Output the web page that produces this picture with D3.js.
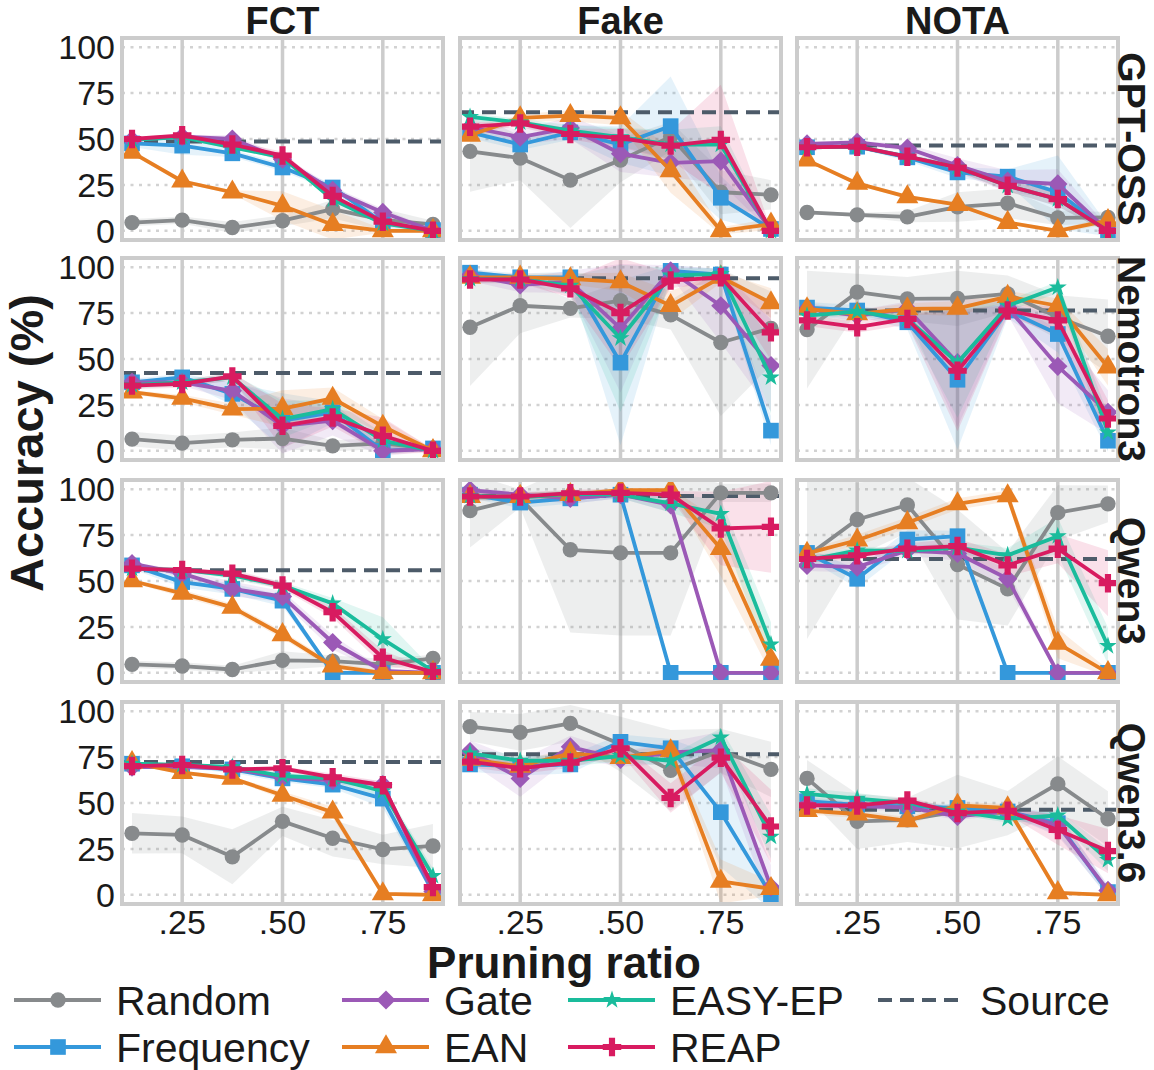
<!DOCTYPE html>
<html>
<head>
<meta charset="utf-8">
<script src="https://cdn.jsdelivr.net/npm/d3@7"></script>
<style>
  body { margin: 0; background: #fff; }
  text { font-family: "Liberation Sans", Arial, Helvetica, sans-serif; fill: #1a1a1a; }
</style>
</head>
<body>
<svg id="chart" width="1154" height="1070"></svg>
<script>
// ---- data ----
const ratios = [0.125, 0.25, 0.375, 0.5, 0.625, 0.75, 0.875];
const xTicks = [0.25, 0.5, 0.75];
const xTickLabels = [".25", ".50", ".75"];
const yTicks = [0, 25, 50, 75, 100];
const tasks = ["FCT", "Fake", "NOTA"];
const models = ["GPT-OSS", "Nemotron3", "Qwen3", "Qwen3.6"];
const methods = ["Random", "Frequency", "Gate", "EAN", "EASY-EP", "REAP"];
const colors = ["#878a8c", "#3498db", "#9b59b6", "#e67e22", "#1abc9c", "#d81b60"];

// source model accuracy per model (rows) and task (columns)
const source = [
  [48.7, 64.5, 46.4],
  [42.4, 94.0, 76.4],
  [55.8, 96.3, 62.0],
  [72.3, 76.6, 46.3]
];

// mean accuracy, one row per method (Random, Frequency, Gate, EAN, EASY-EP, REAP)
const gptFct = [
  [4.5, 5.8, 1.8, 5.5, 11.8, 6.0, 3.5],
  [47.6, 46.4, 42.2, 34.5, 23.6, 4.5, 0.4],
  [49.5, 51.3, 50.0, 39.0, 22.0, 10.0, 0.0],
  [42.7, 27.0, 21.0, 13.6, 3.3, 0.0, 0.0],
  [49.5, 51.0, 45.5, 40.0, 17.0, 4.0, 0.0],
  [50.0, 52.0, 47.0, 41.0, 19.0, 5.0, 0.0]
];
const gptFake = [
  [43.3, 39.6, 27.6, 38.5, 51.3, 21.0, 19.6],
  [53.6, 47.0, 53.6, 47.0, 57.0, 18.0, 1.0],
  [56.4, 51.0, 56.0, 42.0, 37.0, 38.0, 0.4],
  [52.0, 61.5, 62.7, 61.5, 32.7, 0.0, 3.6],
  [62.0, 59.0, 54.5, 51.0, 47.0, 47.0, 0.0],
  [56.7, 58.5, 52.7, 50.5, 46.4, 49.5, 0.0]
];
const gptNota = [
  [10.0, 8.7, 7.6, 13.0, 15.0, 7.0, 7.3],
  [45.5, 45.8, 40.0, 31.8, 29.5, 21.0, 0.0],
  [47.3, 48.2, 45.0, 35.5, 27.0, 25.5, 0.0],
  [38.5, 25.8, 18.5, 14.2, 4.5, 0.0, 5.5],
  [45.5, 45.8, 40.4, 34.5, 24.5, 17.3, 0.0],
  [45.5, 45.8, 40.4, 34.5, 24.5, 17.3, 0.0]
];
const nemFct = [
  [6.4, 4.2, 6.0, 6.7, 2.7, 4.0, 1.0],
  [37.3, 40.0, 31.0, 16.4, 21.0, 0.0, 1.3],
  [37.3, 37.3, 32.7, 13.6, 16.4, 0.0, 1.0],
  [32.0, 28.5, 22.7, 23.0, 28.5, 13.3, 0.0],
  [35.8, 37.3, 40.0, 17.3, 22.7, 5.5, 0.0],
  [35.5, 36.4, 40.5, 13.6, 18.2, 8.2, 0.0]
];
const nemFake = [
  [67.3, 79.0, 77.6, 81.8, 74.0, 59.0, 66.7],
  [97.0, 94.5, 94.5, 48.0, 98.0, 96.0, 11.0],
  [95.5, 90.4, 92.0, 66.7, 98.0, 79.0, 46.4],
  [94.5, 94.5, 93.6, 92.0, 79.0, 94.5, 80.5],
  [93.6, 93.3, 90.0, 61.3, 95.5, 96.4, 40.0],
  [93.3, 93.3, 88.5, 75.0, 92.7, 94.5, 64.5]
];
const nemNota = [
  [66.0, 86.4, 82.7, 83.0, 85.5, 72.7, 62.4],
  [78.0, 76.4, 70.0, 38.7, 76.4, 63.6, 5.5],
  [77.3, 73.6, 77.3, 48.0, 78.0, 46.0, 21.0],
  [77.3, 74.5, 77.3, 77.6, 84.0, 79.0, 45.5],
  [73.6, 75.8, 71.8, 48.0, 79.0, 89.0, 10.0],
  [71.0, 67.3, 71.8, 43.6, 76.4, 71.0, 17.6]
];
const qwenFct = [
  [4.6, 3.7, 1.8, 6.8, 6.4, 4.6, 7.9],
  [58.5, 49.4, 45.7, 39.3, 0.0, 0.0, 0.0],
  [59.4, 54.0, 45.7, 41.5, 16.5, 1.0, 0.0],
  [50.0, 43.3, 35.6, 20.7, 3.7, 0.0, 0.0],
  [56.7, 56.0, 53.0, 47.5, 37.8, 18.3, 1.0],
  [56.7, 56.0, 54.0, 47.5, 33.0, 8.2, 0.4]
];
const qwenFake = [
  [88.3, 95.0, 67.0, 65.3, 65.3, 98.0, 98.0],
  [97.0, 92.7, 95.0, 97.0, 0.0, 0.0, 0.0],
  [99.5, 97.0, 95.0, 97.0, 91.4, 0.0, 0.0],
  [96.0, 96.0, 97.0, 99.5, 99.5, 67.6, 7.3],
  [96.3, 95.6, 97.4, 97.0, 92.3, 86.5, 15.5],
  [96.0, 96.0, 97.8, 98.0, 97.0, 78.6, 79.5]
];
const qwenNota = [
  [63.4, 83.5, 91.4, 59.0, 45.7, 87.2, 92.0],
  [65.3, 51.2, 72.6, 74.4, 0.0, 0.0, 0.0],
  [58.5, 57.6, 66.7, 65.0, 51.2, 0.0, 0.0],
  [65.0, 72.2, 81.7, 92.0, 96.3, 16.0, 0.0],
  [61.2, 66.7, 66.4, 68.2, 64.0, 74.4, 14.6],
  [62.0, 64.0, 67.6, 69.0, 58.5, 67.6, 48.8]
];
const q36Fct = [
  [33.5, 32.6, 20.7, 40.0, 30.8, 24.7, 26.6],
  [71.4, 70.0, 68.3, 63.4, 60.0, 52.4, 1.5],
  [69.6, 69.6, 68.9, 64.0, 62.3, 60.0, 1.8],
  [72.0, 66.5, 63.4, 54.2, 45.0, 0.5, 0.0],
  [71.4, 70.7, 69.6, 64.7, 63.4, 56.4, 10.3],
  [70.1, 70.7, 68.3, 68.9, 64.0, 59.7, 4.2]
];
const q36Fake = [
  [91.6, 88.5, 93.4, 82.0, 67.8, 78.4, 68.3],
  [71.0, 70.0, 71.0, 83.3, 79.8, 45.0, 0.0],
  [78.0, 63.4, 80.6, 73.8, 77.5, 78.8, 4.2],
  [73.8, 70.0, 77.0, 74.7, 78.4, 7.3, 3.3],
  [77.0, 73.0, 73.0, 75.6, 73.0, 85.7, 31.7],
  [72.5, 68.9, 72.0, 79.8, 52.7, 74.7, 37.2]
];
const q36Nota = [
  [63.4, 40.0, 40.8, 45.4, 44.5, 60.4, 41.4],
  [51.0, 49.0, 48.2, 47.3, 45.4, 39.0, 1.5],
  [49.0, 48.2, 47.6, 42.7, 45.4, 38.0, 2.4],
  [45.8, 44.0, 40.3, 48.7, 47.3, 1.1, 0.0],
  [55.0, 52.4, 50.0, 45.4, 41.4, 43.2, 19.0],
  [48.7, 48.7, 51.3, 44.5, 45.8, 35.3, 23.8]
];

// spread (std) for the shaded bands, same layout as above
const gptFctSd = [
  [2, 2, 3, 3, 5, 6, 2], [2, 5, 2, 2, 2, 2, 1], [1, 1, 2, 2, 2, 2, 1],
  [1, 1, 1, 8, 8, 1, 1], [1, 1, 1, 1, 1, 1, 1], [1, 1, 2, 2, 1, 1, 1]
];
const gptFakeSd = [
  [22, 12, 26, 12, 8, 12, 8], [3, 3, 4, 10, 27, 12, 2], [4, 4, 6, 10, 8, 12, 1],
  [2, 2, 3, 4, 12, 2, 3], [2, 2, 3, 5, 8, 10, 1], [2, 2, 3, 5, 8, 30, 1]
];
const gptNotaSd = [
  [1, 1, 3, 8, 8, 4, 3], [1, 1, 2, 3, 4, 20, 3], [1, 1, 2, 4, 6, 8, 2],
  [1, 1, 1, 1, 1, 1, 2], [1, 1, 1, 2, 3, 4, 1], [1, 1, 1, 2, 3, 4, 1]
];
const nemFctSd = [
  [4, 4, 4, 6, 3, 3, 1], [2, 2, 6, 15, 6, 2, 1], [2, 2, 5, 15, 8, 3, 1],
  [1, 2, 3, 10, 6, 4, 1], [2, 2, 2, 10, 5, 4, 1], [2, 2, 2, 12, 5, 10, 1]
];
const nemFakeSd = [
  [32, 15, 5, 10, 8, 40, 20], [2, 2, 3, 45, 3, 3, 8], [3, 4, 6, 35, 3, 20, 25],
  [2, 2, 3, 5, 8, 3, 8], [2, 2, 5, 40, 4, 3, 20], [2, 2, 5, 30, 4, 3, 15]
];
const nemNotaSd = [
  [32, 10, 12, 15, 10, 12, 20], [3, 3, 4, 38, 4, 10, 6], [3, 3, 4, 35, 4, 20, 12],
  [2, 2, 3, 4, 3, 4, 10], [2, 2, 3, 30, 3, 3, 10], [3, 3, 3, 33, 3, 8, 10]
];
const qwenFctSd = [
  [2, 2, 2, 5, 3, 3, 2], [2, 3, 3, 3, 1, 1, 1], [1, 2, 4, 3, 4, 1, 1],
  [1, 2, 2, 2, 2, 1, 1], [1, 1, 2, 2, 3, 12, 1], [1, 1, 2, 2, 3, 4, 1]
];
const qwenFakeSd = [
  [20, 5, 45, 45, 45, 5, 5], [2, 3, 3, 2, 1, 1, 1], [1, 2, 3, 2, 4, 1, 1],
  [2, 2, 2, 1, 1, 15, 8], [2, 2, 2, 2, 5, 8, 12], [2, 2, 2, 2, 2, 20, 25]
];
const qwenNotaSd = [
  [45, 20, 15, 30, 20, 15, 10], [3, 5, 5, 3, 1, 1, 1], [3, 3, 3, 4, 5, 1, 1],
  [2, 3, 3, 3, 3, 8, 2], [2, 2, 2, 3, 4, 10, 10], [2, 2, 3, 4, 6, 8, 18]
];
const q36FctSd = [
  [11, 10, 15, 8, 10, 8, 12], [1, 1, 2, 2, 2, 5, 2], [1, 1, 1, 2, 2, 2, 2],
  [1, 1, 1, 2, 3, 1, 1], [1, 1, 1, 2, 2, 3, 4], [1, 1, 1, 1, 2, 2, 2]
];
const q36FakeSd = [
  [8, 10, 10, 15, 22, 12, 15], [4, 5, 5, 4, 5, 30, 8], [6, 10, 6, 4, 6, 10, 12],
  [3, 3, 3, 3, 3, 12, 4], [3, 3, 3, 3, 3, 5, 12], [3, 3, 3, 3, 8, 8, 20]
];
const q36NotaSd = [
  [10, 15, 12, 20, 12, 15, 15], [2, 2, 2, 2, 2, 6, 3], [2, 2, 2, 2, 2, 6, 3],
  [2, 2, 2, 2, 2, 1, 1], [3, 3, 2, 2, 2, 3, 6], [2, 2, 2, 2, 2, 8, 12]
];

const means = [
  [gptFct, gptFake, gptNota],
  [nemFct, nemFake, nemNota],
  [qwenFct, qwenFake, qwenNota],
  [q36Fct, q36Fake, q36Nota]
];
const spreads = [
  [gptFctSd, gptFakeSd, gptNotaSd],
  [nemFctSd, nemFakeSd, nemNotaSd],
  [qwenFctSd, qwenFakeSd, qwenNotaSd],
  [q36FctSd, q36FakeSd, q36NotaSd]
];

// ---- layout ----
const colX = [122, 460, 797];
const rowY = [38, 258, 480, 702];
const panelW = 321, panelH = 202;
const gridCol = "#cccccc";
const srcCol = "#4d5b69";

const svg = d3.select("#chart");

const x = d3.scaleLinear().domain([0.1, 0.9]).range([0, panelW]);
const y = d3.scaleLinear().domain([-5, 105]).range([panelH, 0]);

// matplotlib-style diamond (square turned 45 degrees)
const symbolRhomb = {
  draw(ctx, size) {
    const r = Math.sqrt(size / 2);
    ctx.moveTo(0, -r); ctx.lineTo(r, 0); ctx.lineTo(0, r); ctx.lineTo(-r, 0); ctx.closePath();
  }
};

const shapes = [
  d3.symbol(d3.symbolCircle, 185),
  d3.symbol(d3.symbolSquare, 245),
  d3.symbol(symbolRhomb, 185),
  d3.symbol(d3.symbolTriangle, 210),
  d3.symbol(d3.symbolStar, 100),
  d3.symbol(d3.symbolCross, 190)
];

models.forEach((model, r) => {
  tasks.forEach((task, c) => {
    const g = svg.append("g").attr("transform", `translate(${colX[c]},${rowY[r]})`);
    const clipId = `clip-${r}-${c}`;
    g.append("clipPath").attr("id", clipId)
      .append("rect").attr("width", panelW).attr("height", panelH);

    // horizontal dotted grid
    g.selectAll(".hgrid").data(yTicks).enter().append("line")
      .attr("x1", 0).attr("x2", panelW)
      .attr("y1", d => y(d)).attr("y2", d => y(d))
      .attr("stroke", "#d2d2d2").attr("stroke-width", 2.5)
      .attr("stroke-dasharray", "3,5.5");

    // vertical grid
    g.selectAll(".vgrid").data(xTicks).enter().append("line")
      .attr("x1", d => x(d)).attr("x2", d => x(d))
      .attr("y1", 0).attr("y2", panelH)
      .attr("stroke", gridCol).attr("stroke-width", 3.5);

    const plot = g.append("g").attr("clip-path", `url(#${clipId})`);
    const m = means[r][c], s = spreads[r][c];

    // bands
    methods.forEach((name, k) => {
      const pts = ratios.map((rt, i) => ({ x: rt, lo: m[k][i] - s[k][i], hi: m[k][i] + s[k][i] }));
      plot.append("path")
        .datum(pts)
        .attr("d", d3.area().x(d => x(d.x)).y0(d => y(d.lo)).y1(d => y(d.hi)))
        .attr("fill", colors[k])
        .attr("fill-opacity", k === 0 ? 0.15 : 0.13);
    });

    // source reference
    plot.append("line")
      .attr("x1", 0).attr("x2", panelW)
      .attr("y1", y(source[r][c])).attr("y2", y(source[r][c]))
      .attr("stroke", srcCol).attr("stroke-width", 4)
      .attr("stroke-dasharray", "14,8");

    // lines + markers
    methods.forEach((name, k) => {
      const pts = ratios.map((rt, i) => ({ x: rt, v: m[k][i] }));
      plot.append("path")
        .datum(pts)
        .attr("d", d3.line().x(d => x(d.x)).y(d => y(d.v)))
        .attr("fill", "none")
        .attr("stroke", colors[k])
        .attr("stroke-width", 3.8)
        .attr("stroke-linejoin", "round");
      plot.selectAll(null).data(pts).enter().append("path")
        .attr("d", shapes[k])
        .attr("transform", d => `translate(${x(d.x)},${y(d.v)})`)
        .attr("fill", colors[k]);
    });

    // frame
    g.append("rect")
      .attr("width", panelW).attr("height", panelH)
      .attr("fill", "none").attr("stroke", gridCol).attr("stroke-width", 4);

    // y tick labels on the first column
    if (c === 0) {
      g.selectAll(".ytl").data(yTicks).enter().append("text")
        .attr("x", -7).attr("y", d => y(d)).attr("dy", "0.35em")
        .attr("text-anchor", "end")
        .attr("font-size", 34)
        .text(d => d);
    }
    // x tick labels on the last row
    if (r === models.length - 1) {
      g.selectAll(".xtl").data(xTicks).enter().append("text")
        .attr("x", d => x(d)).attr("y", panelH + 30)
        .attr("text-anchor", "middle")
        .attr("font-size", 34)
        .text((d, i) => xTickLabels[i]);
    }
    // column titles
    if (r === 0) {
      g.append("text")
        .attr("x", panelW / 2).attr("y", -4)
        .attr("text-anchor", "middle")
        .attr("font-size", 38).attr("font-weight", "bold")
        .text(task);
    }
    // row labels on the right, rotated
    if (c === tasks.length - 1) {
      g.append("text")
        .attr("transform", `translate(${panelW}, ${panelH / 2}) rotate(90)`)
        .attr("text-anchor", "middle")
        .attr("font-size", 39).attr("font-weight", "bold")
        .text(model);
    }
  });
});

// axis titles
svg.append("text")
  .attr("transform", "translate(43,443) rotate(-90)")
  .attr("text-anchor", "middle")
  .attr("font-size", 47).attr("font-weight", "bold")
  .text("Accuracy (%)");

svg.append("text")
  .attr("x", 564).attr("y", 978)
  .attr("text-anchor", "middle")
  .attr("font-size", 44).attr("font-weight", "bold")
  .text("Pruning ratio");

// legend
const legendItems = [
  { name: "Random", k: 0, col: 0, row: 0 },
  { name: "Frequency", k: 1, col: 0, row: 1 },
  { name: "Gate", k: 2, col: 1, row: 0 },
  { name: "EAN", k: 3, col: 1, row: 1 },
  { name: "EASY-EP", k: 4, col: 2, row: 0 },
  { name: "REAP", k: 5, col: 2, row: 1 },
  { name: "Source", k: -1, col: 3, row: 0 }
];
const legX = [14, 342, 568, 878];
const legY = [1000, 1047];
const leg = svg.append("g");
legendItems.forEach(it => {
  const item = leg.append("g").attr("transform", `translate(${legX[it.col]},${legY[it.row]})`);
  if (it.k >= 0) {
    item.append("line").attr("x1", 0).attr("x2", 87).attr("y1", 0).attr("y2", 0)
      .attr("stroke", colors[it.k]).attr("stroke-width", 3.8);
    item.append("path").attr("d", shapes[it.k]).attr("transform", "translate(44,0)")
      .attr("fill", colors[it.k]);
  } else {
    item.append("line").attr("x1", 0).attr("x2", 87).attr("y1", 0).attr("y2", 0)
      .attr("stroke", srcCol).attr("stroke-width", 4).attr("stroke-dasharray", "14,8");
  }
  item.append("text").attr("x", 102).attr("y", 0).attr("dy", "0.36em")
    .attr("font-size", 41).text(it.name);
});
</script>
</body>
</html>
